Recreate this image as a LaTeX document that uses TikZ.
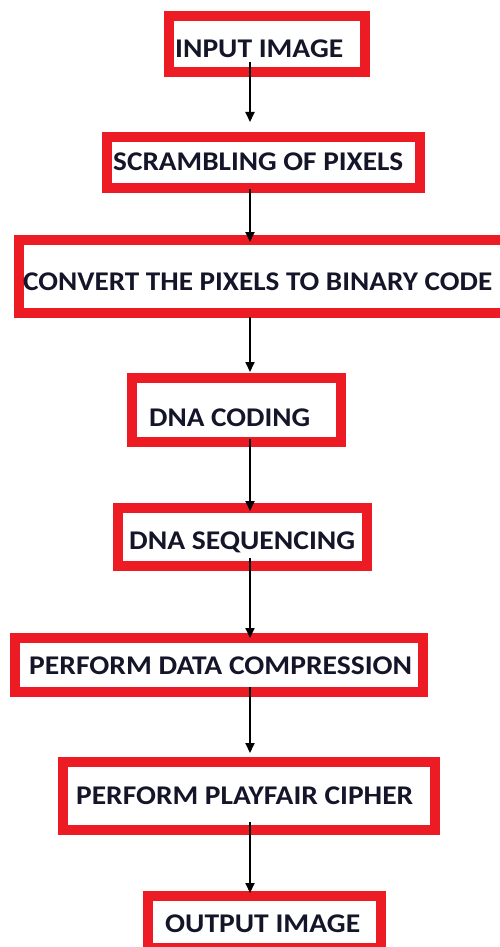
\documentclass[tikz,border=0pt]{standalone}
\usepackage{fontspec}
\setmainfont{Carlito}
\usetikzlibrary{arrows.meta}
\definecolor{boxred}{HTML}{ED1C24}
\definecolor{txt}{HTML}{15152A}
\newcommand\fitw[2]{\resizebox{#1}{\height}{#2}}
\begin{document}
\begin{tikzpicture}[x=1pt,y=-1pt,
  box/.style={draw=boxred,line width=10pt,rectangle,inner sep=0pt,fill=none},
  lbl/.style={anchor=base west,inner sep=0pt,text=txt,font=\fontsize{27}{30}\selectfont\bfseries},
  arr/.style={line width=1.8pt,-{Triangle[length=10pt,width=9pt]}}]
\useasboundingbox (0,0) rectangle (500,947);
\clip (0,0) rectangle (500,947);
\fill[white] (0,0) rectangle (500,947);
% boxes
\node[box,minimum width=196pt,minimum height=56pt] (b1) at (267,44) {};
\node[box,minimum width=313pt,minimum height=51pt] (b2) at (263.5,162.5) {};
\node[box,minimum width=491.5pt,minimum height=73pt] (b3) at (264.25,276) {};
\node[box,minimum width=209.5pt,minimum height=64pt] (b4) at (236.25,410) {};
\node[box,minimum width=249pt,minimum height=58pt] (b5) at (242.5,537) {};
\node[box,minimum width=408pt,minimum height=54pt] (b6) at (219,665) {};
\node[box,minimum width=372.5pt,minimum height=68pt] (b7) at (248.75,796) {};
\node[box,minimum width=232.5pt,minimum height=52pt] (b8) at (264.25,922) {};
% labels
\node[lbl] (t1) at (175,58) {\fitw{168pt}{INPUT IMAGE}};
\node[lbl] (t2) at (113,170) {\fitw{290pt}{SCRAMBLING OF PIXELS}};
\node[lbl] (t3) at (23,290) {\fitw{469pt}{CONVERT THE PIXELS TO BINARY CODE}};
\node[lbl] (t4) at (149,426) {\fitw{161pt}{DNA CODING}};
\node[lbl] (t5) at (129,549) {\fitw{226pt}{DNA SEQUENCING}};
\node[lbl] (t6) at (29,674) {\fitw{383pt}{PERFORM DATA COMPRESSION}};
\node[lbl] (t7) at (76,804) {\fitw{337pt}{PERFORM PLAYFAIR CIPHER}};
\node[lbl] (t8) at (165,932) {\fitw{195pt}{OUTPUT IMAGE}};
% arrow ends
\coordinate (a1s) at (250,62);  \coordinate (a1e) at (250,122);
\coordinate (a2s) at (250,189); \coordinate (a2e) at (250,242);
\coordinate (a3s) at (250,317); \coordinate (a3e) at (250,372);
\coordinate (a4s) at (250,439); \coordinate (a4e) at (250,511);
\coordinate (a5s) at (250,558); \coordinate (a5e) at (250,638);
\coordinate (a6s) at (250,687); \coordinate (a6e) at (250,753);
\coordinate (a7s) at (250,822); \coordinate (a7e) at (250,893);
\foreach \i in {1,...,7} \draw[arr] (a\i s) -- (a\i e);
\end{tikzpicture}
\end{document}
